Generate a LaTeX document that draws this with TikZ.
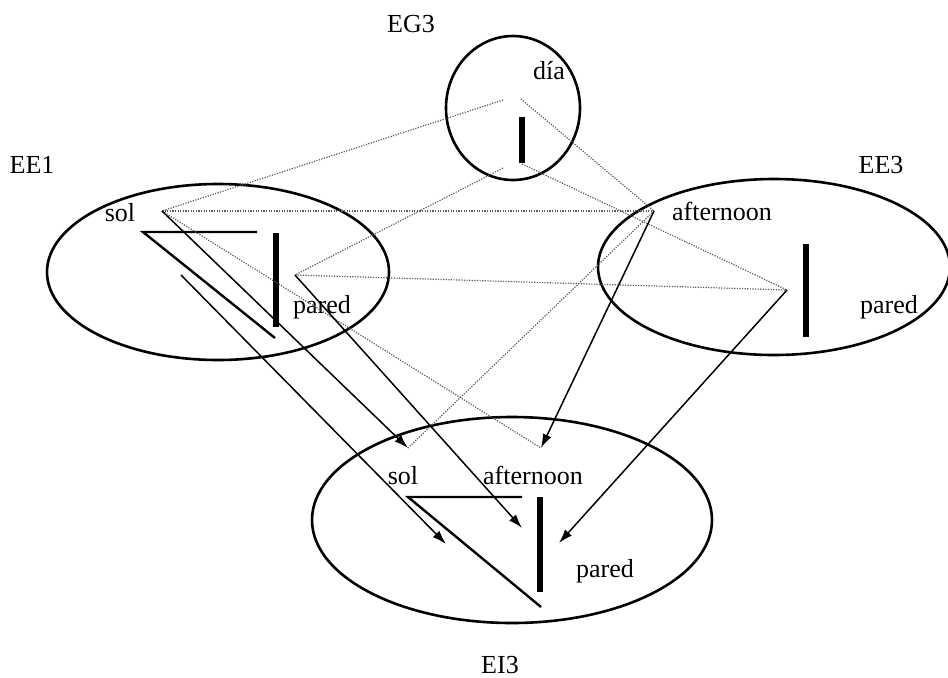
\documentclass[tikz,border=0pt]{standalone}
\usepackage{fontspec}
\setmainfont{Liberation Serif}
\usetikzlibrary{arrows.meta}
\tikzset{
  lbl/.style={anchor=base,inner sep=0pt,font=\fontsize{13}{15}\selectfont},
  space/.style={line width=1.3pt},
  wall/.style={line width=2.7pt},
  ray/.style={line width=1.2pt},
  hint/.style={black!65,line width=0.6pt,dash pattern=on 0.6pt off 0.7pt},
  move/.style={line width=0.75pt,-{Latex[length=7pt,width=4.6pt]}}
}
\begin{document}
\begin{tikzpicture}[x=0.5pt,y=-0.5pt]
\useasboundingbox (0,0) rectangle (948,677);
% the four spaces
\draw[space] (513,108) ellipse (67 and 72);
\draw[space] (218,272) ellipse (171 and 88);
\draw[space] (774,267) ellipse (176 and 88);
\draw[space] (512,520) ellipse (200 and 103);
\node[lbl] (eg3) at (411,32) {EG3};
\node[lbl] (ee1) at (32,173) {EE1};
\node[lbl] (ee3) at (881,173) {EE3};
\node[lbl] (ei3) at (500,673) {EI3};
% generic space
\node[lbl] (dia) at (549,79) {día};
\draw[wall] (522,117) -- (522,163);
\coordinate (gL) at (503,100);
\coordinate (gR) at (521,99);
\coordinate (gBL) at (503,168);
\coordinate (gBR) at (522,164);
% input space 1
\node[lbl] (sol1) at (120,221) {sol};
\node[lbl] (pared1) at (322,313) {pared};
\draw[ray] (257,232) -- (143,232) -- (275,338);
\draw[wall] (276,233) -- (276,327);
\coordinate (s1) at (162,211);
\coordinate (r1) at (181,275);
\coordinate (p1) at (295,275);
% input space 3
\node[lbl] (aft3) at (722,220) {afternoon};
\node[lbl] (pared3) at (889,313) {pared};
\draw[wall] (806,244) -- (806,337);
\coordinate (a3) at (654,211);
\coordinate (p3) at (787,290);
% blend
\node[lbl] (soli) at (403,484) {sol};
\node[lbl] (afti) at (533,484) {afternoon};
\node[lbl] (paredi) at (605,577) {pared};
\draw[ray] (522,497) -- (408,497) -- (541,607);
\draw[wall] (540,497) -- (540,592);
\coordinate (si) at (408,448);
\coordinate (ai) at (541,448);
\coordinate (ri) at (446,544);
\coordinate (wi) at (522,528);
\coordinate (pi) at (559,543);
% cross-space links
\draw[hint] (gL) -- (s1);
\draw[hint] (gR) -- (a3);
\draw[hint] (gBL) -- (p1);
\draw[hint] (gBR) -- (p3);
\draw[hint] (s1) -- (a3);
\draw[hint] (p1) -- (p3);
\draw[hint] (s1) -- (ai);
\draw[hint] (a3) -- (si);
% projections into the blend
\draw[move] (s1) -- (si);
\draw[move] (r1) -- (ri);
\draw[move] (p1) -- (wi);
\draw[move] (a3) -- (ai);
\draw[move] (p3) -- (pi);
\end{tikzpicture}
\end{document}
